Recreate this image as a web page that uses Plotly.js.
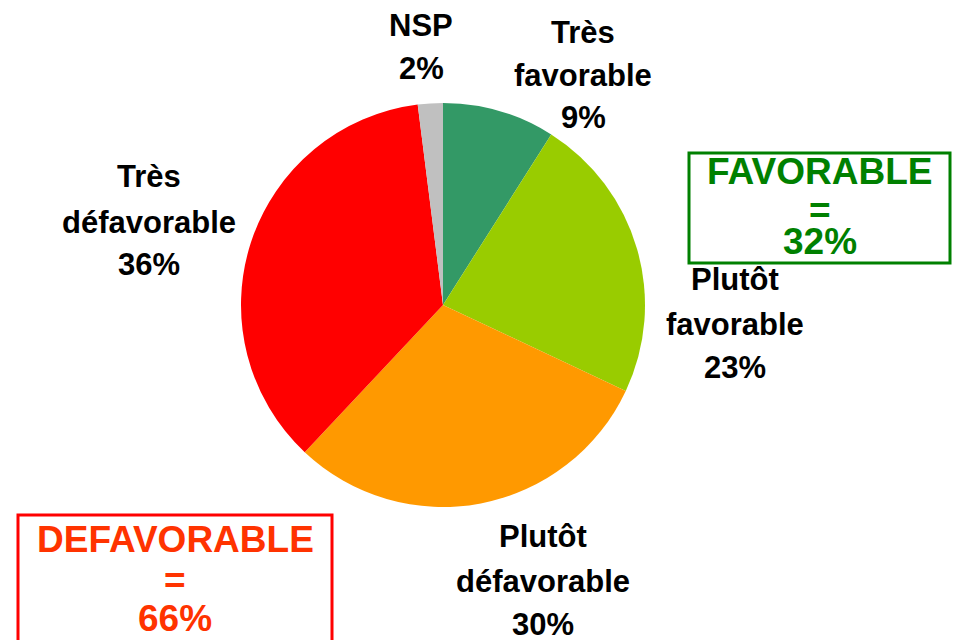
<!DOCTYPE html>
<html>
<head>
<meta charset="utf-8">
<script src="https://cdn.plot.ly/plotly-3.0.1.min.js"></script>
<style>
  html, body { margin: 0; padding: 0; background: #ffffff; }
  #chart { width: 960px; height: 640px; }
</style>
</head>
<body>
<div id="chart"></div>
<script>
// ---- data ----
const categories = ['Très favorable', 'Plutôt favorable', 'Plutôt défavorable', 'Très défavorable', 'NSP'];
const values = [9, 23, 30, 36, 2];
const labelLines = [['Très', 'favorable'], ['Plutôt', 'favorable'], ['Plutôt', 'défavorable'], ['Très', 'défavorable'], ['NSP']];
const groupNames = ['FAVORABLE', 'DEFAVORABLE'];
const groupValues = [32, 66];

// ---- styles / layout ----
const sliceColors = ['#339966', '#99CC00', '#FF9900', '#FF0000', '#C0C0C0'];
const W = 960, H = 640;
const cx = 443, cy = 305, R = 202;
const px = x => x / W;
const py = y => 1 - y / H;

// label placement (pixel centers of each text line)
const labelPos = [
  { x: 583, ys: [32, 75, 118] },
  { x: 735, ys: [279, 324, 367] },
  { x: 543, ys: [536, 581, 624] },
  { x: 149, ys: [176, 222, 264] },
  { x: 421, ys: [25, 69] }
];
const groupPos = [
  { x: 819.5, ys: [171.5, 210, 241.5], box: [689, 153, 950, 263], line: '#008000', text: '#008000' },
  { x: 175, ys: [539.5, 580, 618], box: [18, 515, 332, 650], line: '#FF0000', text: '#FF3300' }
];
const FONT = 'Liberation Sans, Arial, Helvetica, sans-serif';

const annotations = [];
categories.forEach((c, i) => {
  const lines = labelLines[i].concat([values[i] + '%']);
  lines.forEach((t, j) => {
    annotations.push({
      xref: 'paper', yref: 'paper', x: px(labelPos[i].x), y: py(labelPos[i].ys[j]),
      xanchor: 'center', yanchor: 'middle', showarrow: false,
      text: '<b>' + t + '</b>', font: { family: FONT, size: 31, color: '#000000' }
    });
  });
});
const shapes = [];
groupNames.forEach((g, i) => {
  const p = groupPos[i];
  const lines = [g, '=', groupValues[i] + '%'];
  lines.forEach((t, j) => {
    annotations.push({
      xref: 'paper', yref: 'paper', x: px(p.x), y: py(p.ys[j]),
      xanchor: 'center', yanchor: 'middle', showarrow: false,
      text: '<b>' + t + '</b>', font: { family: FONT, size: 37, color: p.text }
    });
  });
  shapes.push({
    type: 'rect', xref: 'paper', yref: 'paper',
    x0: px(p.box[0]), x1: px(p.box[2]), y0: py(p.box[3]), y1: py(p.box[1]),
    line: { color: p.line, width: 3 }, fillcolor: 'rgba(0,0,0,0)'
  });
});

const trace = {
  type: 'pie',
  labels: categories,
  values: values,
  sort: false,
  direction: 'clockwise',
  rotation: 0,
  marker: { colors: sliceColors, line: { width: 0 } },
  textinfo: 'none',
  hoverinfo: 'none',
  showlegend: false,
  domain: { x: [px(cx - R), px(cx + R)], y: [py(cy + R), py(cy - R)] }
};

const layout = {
  width: W, height: H,
  margin: { l: 0, r: 0, t: 0, b: 0 },
  paper_bgcolor: '#ffffff',
  plot_bgcolor: '#ffffff',
  showlegend: false,
  annotations: annotations,
  shapes: shapes
};

Plotly.newPlot('chart', [trace], layout, { staticPlot: true, displayModeBar: false });
</script>
</body>
</html>
